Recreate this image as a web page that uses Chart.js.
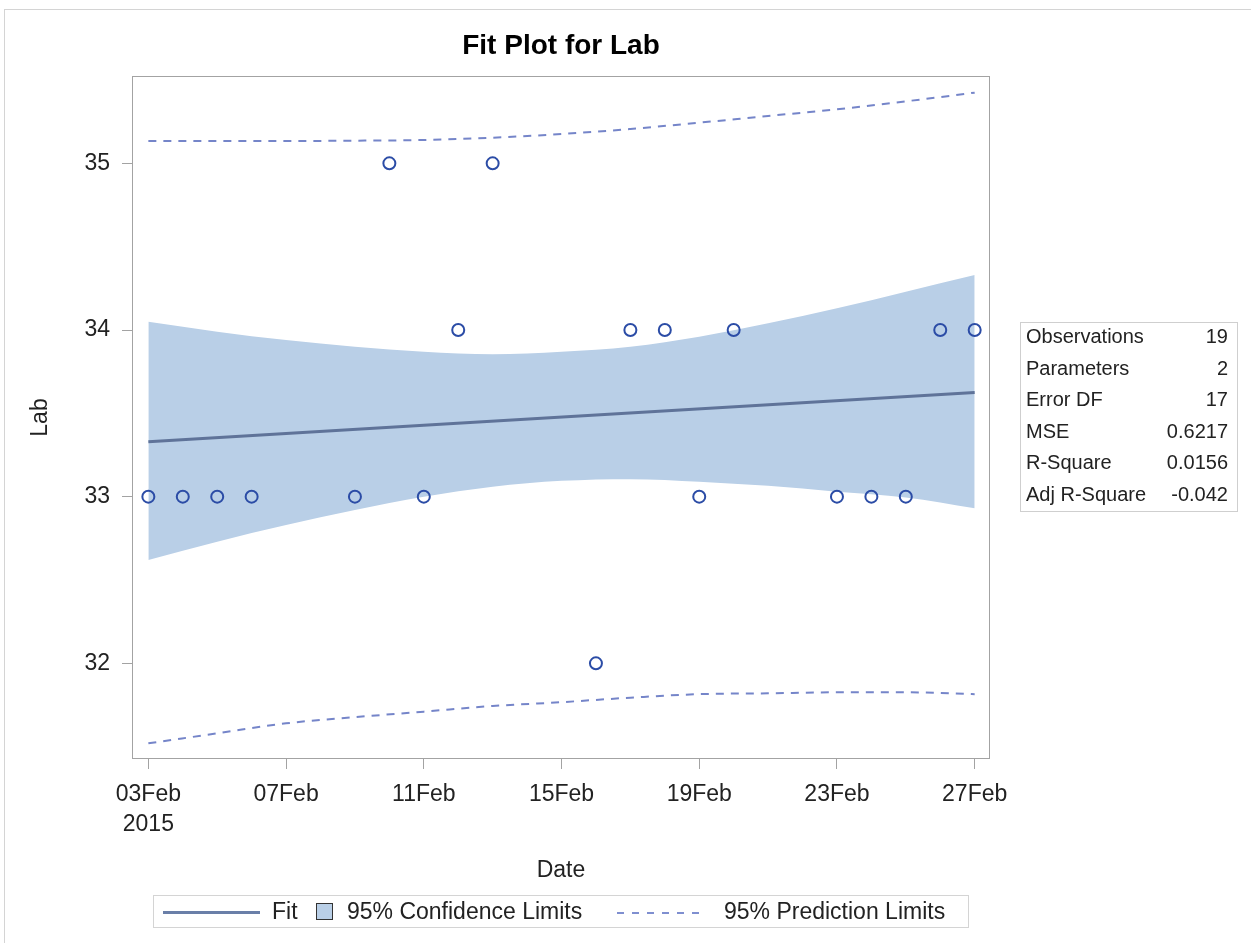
<!DOCTYPE html>
<html>
<head>
<meta charset="utf-8">
<title>Fit Plot for Lab</title>
<script src="https://cdn.jsdelivr.net/npm/chart.js@4.4.1/dist/chart.umd.min.js"></script>
<style>
  body { margin: 0; background: #fff; font-family: "Liberation Sans", Arial, sans-serif; color: #222; }
  #wrap { position: relative; width: 1251px; height: 943px; overflow: hidden; }
  #outer { position: absolute; left: 4px; top: 9px; right: -2px; bottom: -2px;
           border-left: 1px solid #d4d4d4; border-top: 1px solid #d4d4d4; }
  #chart { position: absolute; left: 0; top: 0; }
  /* fit statistics box on the right */
  #stats { position: absolute; left: 1020px; top: 322px; width: 218px; height: 190px;
           box-sizing: border-box; border: 1px solid #cfcfcf; font-size: 20px; }
  #stats table { border-collapse: collapse; width: 100%; }
  #stats td { height: 31.6px; line-height: 26px; vertical-align: top; padding: 0; white-space: nowrap; }
  #stats td.name { padding-left: 5px; }
  #stats td.val { text-align: right; padding-right: 9px; }
  /* legend along the bottom */
  #legend { position: absolute; left: 153px; top: 895px; width: 816px; height: 33px;
            box-sizing: border-box; border: 1px solid #d4d4d4; font-size: 23px; }
  #legend .it { position: absolute; top: 0; height: 31px; line-height: 31px; white-space: nowrap; }
  #legend .fitline { top: 15px; height: 3px; width: 97px; background: #6a7fa8; }
  #legend .sq { top: 7px; width: 15px; height: 15px; background: #b9cfe7; border: 1px solid #333; }
  #legend .dash { top: 16px; height: 2px; width: 88px;
                  background: repeating-linear-gradient(to right, #7f8fd0 0 7px, transparent 7px 15px); }
</style>
</head>
<body>
<div id="wrap">
  <div id="outer"></div>
  <canvas id="chart" width="1251" height="943"></canvas>
  <div id="stats"><table id="statsTable"></table></div>
  <div id="legend">
    <div class="it fitline" style="left:9px"></div>
    <div class="it" style="left:118px">Fit</div>
    <div class="it sq" style="left:162px"></div>
    <div class="it" style="left:193px">95% Confidence Limits</div>
    <div class="it dash" style="left:463px"></div>
    <div class="it" style="left:570px">95% Prediction Limits</div>
  </div>
</div>
<script>
// observations: day of February 2015 and Lab value
const obsDays = [3, 4, 5, 6, 9, 10, 11, 12, 13, 16, 17, 18, 19, 20, 23, 24, 25, 26, 27];
const labValues = [33, 33, 33, 33, 33, 35, 33, 34, 35, 32, 34, 34, 33, 34, 33, 33, 33, 34, 34];

// fitted line
const fitDays = [3, 27];
const fitValues = [33.33, 33.625];

// confidence and prediction limits
const limitDays = [3, 5, 7, 9, 11, 13, 15, 17, 19, 21, 23, 25, 27];
const clUpper = [34.05, 33.99, 33.94, 33.90, 33.87, 33.855, 33.87, 33.90, 33.96, 34.04, 34.13, 34.23, 34.33];
const clLower = [32.62, 32.73, 32.83, 32.92, 33.00, 33.06, 33.095, 33.105, 33.09, 33.065, 33.03, 32.995, 32.93];
const plUpper = [35.134, 35.134, 35.134, 35.136, 35.14, 35.154, 35.176, 35.206, 35.244, 35.284, 35.324, 35.372, 35.424];
const plLower = [31.52, 31.58, 31.64, 31.677, 31.71, 31.744, 31.767, 31.794, 31.815, 31.82, 31.826, 31.826, 31.815];

// axis ticks
const xTickDays = [3, 7, 11, 15, 19, 23, 27];
const xTickLabels = [['03Feb', '2015'], '07Feb', '11Feb', '15Feb', '19Feb', '23Feb', '27Feb'];
const yTicks = [32, 33, 34, 35];

// fit statistics table
const statNames = ['Observations', 'Parameters', 'Error DF', 'MSE', 'R-Square', 'Adj R-Square'];
const statValues = ['19', '2', '17', '0.6217', '0.0156', '-0.042'];

// fill in the stats table
const tbl = document.getElementById('statsTable');
statNames.forEach((n, i) => {
  const tr = document.createElement('tr');
  tr.innerHTML = '<td class="name">' + n + '</td><td class="val">' + statValues[i] + '</td>';
  tbl.appendChild(tr);
});

const FONT = '"Liberation Sans", Arial, sans-serif';
const pts = (xs, ys) => xs.map((d, i) => ({ x: d, y: ys[i] }));

// draws the box round the plot area
const plotFrame = {
  id: 'plotFrame',
  afterDatasetsDraw(chart) {
    const { ctx, chartArea: a } = chart;
    ctx.save();
    ctx.strokeStyle = '#a3a3a3';
    ctx.lineWidth = 1;
    ctx.strokeRect(Math.round(a.left) + 0.5, Math.round(a.top) + 0.5,
      Math.round(a.right - a.left) - 1, Math.round(a.bottom - a.top) - 1);
    ctx.restore();
  }
};

const lineOpts = { pointRadius: 0, cubicInterpolationMode: 'monotone' };

new Chart(document.getElementById('chart'), {
  type: 'line',
  data: {
    datasets: [
      { label: 'Lab', data: pts(obsDays, labValues), showLine: false,
        pointRadius: 6, pointBorderWidth: 2, pointBorderColor: '#2b4ca6',
        pointBackgroundColor: 'rgba(0,0,0,0)', order: 0 },
      Object.assign({ label: 'Fit', data: pts(fitDays, fitValues),
        borderColor: '#5f7399', borderWidth: 3, order: 1 }, lineOpts),
      Object.assign({ label: '95% Prediction Limits', data: pts(limitDays, plUpper),
        borderColor: '#7585c9', borderWidth: 2, borderDash: [8, 7], order: 2 }, lineOpts),
      Object.assign({ label: '95% Prediction Limits (lower)', data: pts(limitDays, plLower),
        borderColor: '#7585c9', borderWidth: 2, borderDash: [8, 7], order: 2 }, lineOpts),
      Object.assign({ label: '95% Confidence Limits', data: pts(limitDays, clUpper),
        borderColor: 'rgba(0,0,0,0)', borderWidth: 0, backgroundColor: '#b9cfe7',
        fill: '+1', order: 3 }, lineOpts),
      Object.assign({ label: '95% Confidence Limits (lower)', data: pts(limitDays, clLower),
        borderColor: 'rgba(0,0,0,0)', borderWidth: 0, fill: false, order: 4 }, lineOpts)
    ]
  },
  options: {
    responsive: false,
    animation: false,
    devicePixelRatio: 1,
    layout: { padding: { top: 0, left: 0, right: 261, bottom: 59 } },
    plugins: {
      legend: { display: false },
      tooltip: { enabled: false },
      title: {
        display: true, text: 'Fit Plot for Lab', color: '#000', fullSize: false,
        font: { family: FONT, size: 28, weight: 'bold', lineHeight: 1.2 },
        padding: { top: 29, bottom: 13.4 }
      }
    },
    scales: {
      x: {
        type: 'linear', min: 2.525, max: 27.445,
        afterBuildTicks: s => { s.ticks = xTickDays.map(v => ({ value: v })); },
        afterFit: s => { s.height = 125; },
        grid: { drawOnChartArea: false, drawTicks: true, tickLength: 10, color: '#a3a3a3' },
        border: { display: false },
        ticks: {
          callback: (v, i) => xTickLabels[i],
          font: { family: FONT, size: 23, lineHeight: 1.3 }, color: '#222',
          padding: 11, maxRotation: 0, autoSkip: false
        },
        title: { display: true, text: 'Date', color: '#222',
          font: { family: FONT, size: 23 }, padding: { top: 0, bottom: 0 } }
      },
      y: {
        min: 31.426, max: 35.524,
        afterBuildTicks: s => { s.ticks = yTicks.map(v => ({ value: v })); },
        afterFit: s => { s.width = 132; },
        grid: { drawOnChartArea: false, drawTicks: true, tickLength: 10, color: '#a3a3a3' },
        border: { display: false },
        ticks: {
          callback: v => String(v),
          font: { family: FONT, size: 23 }, color: '#222', padding: 12
        },
        title: { display: true, text: 'Lab', color: '#222',
          font: { family: FONT, size: 23 }, padding: { top: 27, bottom: 0 } }
      }
    }
  },
  plugins: [plotFrame]
});
</script>
</body>
</html>
